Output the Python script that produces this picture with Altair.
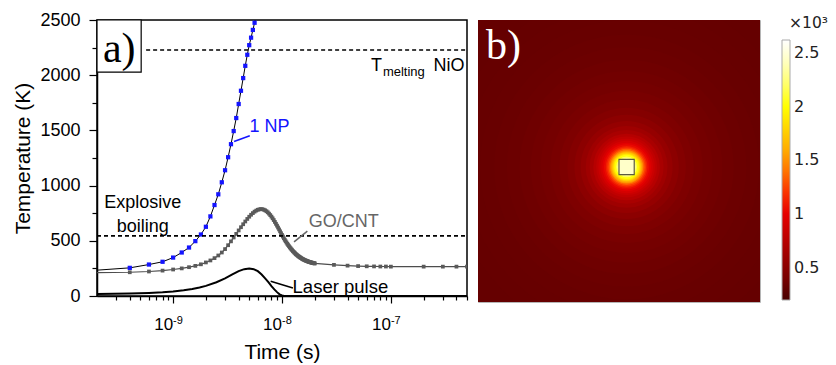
import altair as alt
import pandas as pd

# ---------------- panel a data (time in ns, temperature in K) ----------------
np_t_ns = [0.2, 0.4, 0.6, 0.8, 1.0, 1.2, 1.4, 1.6, 1.8, 2.0, 2.2, 2.4, 2.6, 2.8, 3.0,
           3.2, 3.4, 3.6, 3.8, 4.0, 4.2, 4.4, 4.6, 4.8, 5.0, 5.2, 5.4, 5.6, 5.8]
np_T = [234, 255, 285, 310, 348, 394, 439, 497, 557, 627, 721, 824, 921, 1030, 1139,
        1257, 1375, 1494, 1612, 1739, 1859, 1974, 2085, 2185, 2272, 2340, 2410, 2475, 2545]

go_t_ns = [round(0.2 * k, 1) for k in range(1, 101)] + [30, 40, 50, 60, 70, 80, 90, 100, 200, 300, 400, 500]
go_T = [212, 215, 222, 230, 240, 250, 261, 273, 287, 304,
        322, 343, 367, 394, 425, 460, 495, 530, 563, 594,
        623, 650, 675, 698, 718, 736, 751, 764, 774, 781,
        785, 787, 786, 782, 776, 768, 758, 746, 733, 719,
        704, 688, 671, 654, 637, 620, 603, 586, 569, 553,
        538, 523, 509, 496, 484, 472, 461, 451, 441, 432,
        423, 415, 407, 400, 393, 386, 380, 374, 369, 364,
        359, 355, 351, 347, 343, 339, 336, 333, 330, 327,
        325, 322, 320, 318, 316, 314, 312, 310, 309, 307,
        306, 304, 303, 302, 300, 299, 298, 297, 296, 295,
        282, 275, 271, 269, 268, 267, 267, 266, 266, 266, 266, 266]

laser_t_ns = [0.2, 0.4, 0.6, 0.8, 1.0, 1.25, 1.5, 1.75, 2.0, 2.5, 3.0, 3.5, 4.0, 4.5, 5.0,
              5.5, 6.0, 6.5, 7.0, 7.5, 8.0, 8.5, 9.0, 9.5, 10.0, 10.5, 11.0, 500]
laser_T = [18, 22, 27, 33, 40, 52, 64, 77, 92, 125, 160, 195, 225, 243, 248,
           243, 225, 195, 160, 125, 90, 60, 35, 15, 5, 1, 0, 0]

T_melt_NiO = 2228
T_explosive = 545

x_major = [1e-9, 1e-8, 1e-7]
x_major_exp = ["-9", "-8", "-7"]
x_ticks = [k * 10.0 ** e for e in (-10, -9, -8, -7) for k in range(1, 10)
           if 2.5e-10 < k * 10.0 ** e <= 5e-7]
y_ticks = list(range(0, 2501, 250))

# annotations (text, time [s], temperature [K], colour, font size)
ann_left = pd.DataFrame({
    "text": ["1 NP", "GO/CNT", "Laser pulse", "melting", "NiO"],
    "t": [5.03e-9, 1.76e-8, 1.25e-8, 8.45e-8, 2.46e-7],
    "T": [1485, 621, 27, 1991, 2036],
    "c": ["#1414ff", "#666666", "black", "black", "black"],
    "fs": [18, 18, 18.5, 13, 18],
})
ann_center = pd.DataFrame({"text": ["Explosive", "boiling"], "t": [5.27e-10, 5.27e-10], "T": [794, 582]})
ann_right = pd.DataFrame({"text": ["T"], "t": [8.27e-8], "T": [2036]})

pointers = pd.DataFrame({
    "t1": [3.63e-9, 1.29e-8, 7.87e-9],
    "t2": [5.06e-9, 1.71e-8, 1.26e-8],
    "T1": [1400, 491, 134],
    "T2": [1452, 588, 73],
    "c": ["#1414ff", "#666666", "black"],
})
hlines = pd.DataFrame({"t1": [5.65e-10, 2e-10], "t2": [5e-7, 5e-7], "T": [T_melt_NiO, T_explosive]})
box_a = pd.DataFrame({"t1": [2e-10], "t2": [5.09e-10], "T1": [2027], "T2": [2500]})
label_a = pd.DataFrame({"text": ["a)"], "t": [3.2e-10], "T": [2124]})
xlab = pd.DataFrame({"t": x_major, "base": ["10"] * 3, "exp": x_major_exp, "Tb": [-309] * 3, "Te": [-255] * 3})

np_df = pd.DataFrame({"t": [v * 1e-9 for v in np_t_ns], "T": np_T})
go_df = pd.DataFrame({"t": [v * 1e-9 for v in go_t_ns], "T": go_T})
laser_df = pd.DataFrame({"t": [v * 1e-9 for v in laser_t_ns], "T": laser_T})

W_A, H_A = 370, 276
FONT = "Liberation Sans"

xs = alt.Scale(type="log", domain=[2e-10, 5e-7], nice=False)
ys = alt.Scale(domain=[0, 2500], nice=False, zero=False)

x_axis = alt.Axis(
    values=x_ticks, labels=False, grid=False, title="Time (s)",
    titleFont=FONT, titleFontSize=21, titleFontWeight="normal", titleColor="black",
    titlePadding=38, domainColor="black", domainWidth=1.5, tickColor="black", tickWidth=1.2,
    tickSize={"condition": {"test": "abs(log(datum.value)/LN10 - round(log(datum.value)/LN10)) < 0.01",
                            "value": 7}, "value": 4},
)
y_axis = alt.Axis(
    values=y_ticks, format="d", grid=False, title="Temperature (K)",
    labelExpr="datum.value % 500 == 0 ? datum.label : ''",
    labelFont=FONT, labelFontSize=18, labelColor="black", labelPadding=9,
    titleFont=FONT, titleFontSize=21, titleFontWeight="normal", titleColor="black", titlePadding=6,
    domainColor="black", domainWidth=1.5, tickColor="black", tickWidth=1.2,
    tickSize={"condition": {"test": "datum.value % 500 == 0", "value": 8}, "value": 5},
)

X = lambda f="t": alt.X(f"{f}:Q", scale=xs, axis=x_axis)
Y = lambda f="T": alt.Y(f"{f}:Q", scale=ys, axis=y_axis)

laser = alt.Chart(laser_df).mark_line(color="black", strokeWidth=2, clip=True).encode(x=X(), y=Y())
go_line = alt.Chart(go_df).mark_line(color="#4d4d4d", strokeWidth=1.2, clip=True).encode(x=X(), y=Y())
go_pts = alt.Chart(go_df).transform_filter("datum.t > 3e-10").mark_point(
    shape="square", filled=True, size=14, color="#5a5a5a", opacity=1, clip=True).encode(x=X(), y=Y())
np_line = alt.Chart(np_df).mark_line(color="black", strokeWidth=1, clip=True).encode(x=X(), y=Y())
np_pts = alt.Chart(np_df).transform_filter("datum.t > 3e-10").mark_point(
    shape="square", filled=True, size=18, color="#1414ff", opacity=1, clip=True).encode(x=X(), y=Y())
dashed = alt.Chart(hlines).mark_rule(color="black", strokeWidth=1.6, strokeDash=[4, 3]).encode(
    x=X("t1"), x2="t2", y=Y("T"))
ptr = alt.Chart(pointers).mark_rule(strokeWidth=1.5).encode(
    x=X("t1"), x2="t2", y=Y("T1"), y2="T2", color=alt.Color("c:N", scale=None))
box = alt.Chart(box_a).mark_rect(fill="white", stroke="black", strokeWidth=1.2).encode(
    x=X("t1"), x2="t2", y=Y("T1"), y2="T2")
a_txt = alt.Chart(label_a).mark_text(font="Liberation Serif", fontSize=42, align="center",
                                     baseline="alphabetic", color="black").encode(x=X(), y=Y(), text="text:N")
t_left = alt.Chart(ann_left).mark_text(font=FONT, align="left", baseline="alphabetic").encode(
    x=X(), y=Y(), text="text:N", color=alt.Color("c:N", scale=None), size=alt.Size("fs:Q", scale=None))
t_center = alt.Chart(ann_center).mark_text(font=FONT, fontSize=18, align="center", baseline="alphabetic",
                                           color="black").encode(x=X(), y=Y(), text="text:N")
t_right = alt.Chart(ann_right).mark_text(font=FONT, fontSize=18, align="right", baseline="alphabetic",
                                         color="black").encode(x=X(), y=Y(), text="text:N")
xl_base = alt.Chart(xlab).mark_text(font=FONT, fontSize=17, align="right", baseline="alphabetic",
                                    color="black").encode(x=X(), y=Y("Tb"), text="base:N")
xl_exp = alt.Chart(xlab).mark_text(font=FONT, fontSize=11, align="left", baseline="alphabetic",
                                   color="black").encode(x=X(), y=Y("Te"), text="exp:N")

panel_a = alt.layer(laser, go_line, go_pts, np_line, np_pts, dashed, ptr, box, a_txt,
                    t_left, t_center, t_right, xl_base, xl_exp).properties(
    width=W_A, height=H_A, view=alt.ViewBackground(stroke="black", strokeWidth=1.5, fill="white"))

# ---------------- panel b data (positions in nm, temperature in K) ----------------
W_B = H_B = 282
field_T = 298
spot_x, spot_y = 27, -21
spot_half = 27
spot_T = 2450
ring_r = [27, 32, 37, 43, 47, 51, 55, 59, 64, 69, 74, 80, 86, 93, 100, 108, 118, 131, 145, 163,
          185, 210, 238, 270, 305, 340, 380, 425, 470, 520, 570, 620]
ring_T = [2450, 2330, 2180, 2020, 1880, 1740, 1600, 1470, 1340, 1220, 1120, 1040, 980, 910,
          850, 795, 740, 670, 615, 560, 510, 468, 435, 405, 383, 365, 350, 335, 322, 312, 305, 300]
cbar_values = [500, 1000, 1500, 2000, 2500]

cstops = [200, 300, 500, 750, 1000, 1250, 1500, 1750, 2000, 2300, 2620]
ccolors = ["#480000", "#660000", "#8a0000", "#b80000", "#e60000", "#ff4000", "#ff9600",
           "#ffcc00", "#ffff00", "#ffff99", "#ffffff"]
cscale = alt.Scale(domain=cstops, range=ccolors, interpolate="rgb")

bxs = alt.Scale(domain=[-500, 500], nice=False, zero=False)
bys = alt.Scale(domain=[-500, 500], nice=False, zero=False)
BX = lambda f: alt.X(f"{f}:Q", scale=bxs, axis=None)
BY = lambda f: alt.Y(f"{f}:Q", scale=bys, axis=None)

bg_df = pd.DataFrame({"x1": [-500], "x2": [500], "y1": [-500], "y2": [500], "T": [field_T]})
rings_df = pd.DataFrame({"r": ring_r, "T": ring_T, "x": [spot_x] * len(ring_r), "y": [spot_y] * len(ring_r)})
spot_df = pd.DataFrame({"x1": [spot_x - spot_half], "x2": [spot_x + spot_half],
                        "y1": [spot_y - spot_half], "y2": [spot_y + spot_half], "T": [spot_T]})
b_lab = pd.DataFrame({"text": ["b)"], "x": [-472], "y": [360]})
unit_lab = pd.DataFrame({"text": ["×10³"], "x": [603], "y": [470]})

legend = alt.Legend(title=None, orient="none", legendX=304, legendY=20, direction="vertical",
                    gradientLength=260, gradientThickness=8, values=cbar_values,
                    labelExpr="datum.value / 1000", labelFont="DejaVu Sans", labelFontSize=16,
                    labelColor="#222222", labelOffset=4, padding=0,
                    gradientStrokeColor="#aaaaaa", gradientStrokeWidth=1)

bg = alt.Chart(bg_df).mark_rect().encode(
    x=BX("x1"), x2="x2", y=BY("y1"), y2="y2", color=alt.Color("T:Q", scale=cscale, legend=legend))
rings = alt.Chart(rings_df).mark_point(shape="circle", filled=True, opacity=1, strokeWidth=0, clip=True).encode(
    x=BX("x"), y=BY("y"),
    size=alt.Size("r:Q", scale=alt.Scale(type="pow", exponent=2, domain=[0, 1000], range=[0, 318096]), legend=None),
    color=alt.Color("T:Q", scale=cscale, legend=legend),
    order=alt.Order("r:Q", sort="descending"))
spot = alt.Chart(spot_df).mark_rect(stroke="#5a5a40", strokeWidth=1.2).encode(
    x=BX("x1"), x2="x2", y=BY("y1"), y2="y2", color=alt.Color("T:Q", scale=cscale, legend=legend))
b_txt = alt.Chart(b_lab).mark_text(font="Liberation Serif", fontSize=42, align="left", baseline="alphabetic",
                                   color="white").encode(x=BX("x"), y=BY("y"), text="text:N")
u_txt = alt.Chart(unit_lab).mark_text(font="DejaVu Sans", fontSize=15.5, align="left", baseline="alphabetic",
                                      color="#222222").encode(x=BX("x"), y=BY("y"), text="text:N")

panel_b = alt.layer(bg, rings, spot, b_txt, u_txt).properties(
    width=W_B, height=H_B, view=alt.ViewBackground(stroke="#b5b5b5", strokeWidth=1))

chart = alt.hconcat(panel_a, panel_b, spacing=11, bounds="flush").resolve_scale(
    color="independent").resolve_legend(color="independent").properties(
    padding={"left": 12, "top": 10, "right": 3, "bottom": 5},
    background="white",
)

chart.save("out.html", embed_options={"renderer": "svg", "actions": False})
